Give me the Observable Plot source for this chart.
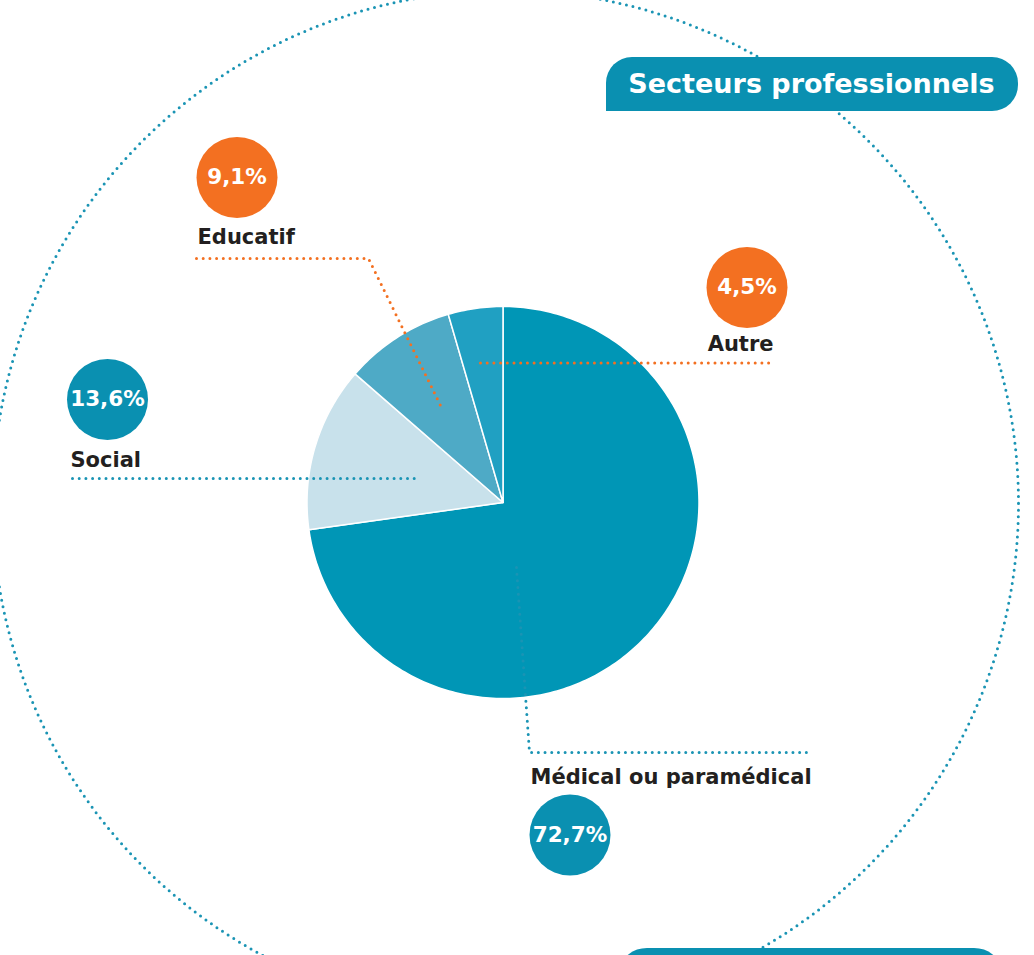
<!DOCTYPE html>
<html>
<head>
<meta charset="utf-8">
<script src="https://cdn.jsdelivr.net/npm/d3@7"></script>
<script src="https://cdn.jsdelivr.net/npm/@observablehq/plot@0.6"></script>
<style>
  html, body { margin: 0; padding: 0; background: #ffffff; }
  #chart { width: 1034px; height: 955px; overflow: hidden; }
</style>
</head>
<body>
<div id="chart"></div>
<script>
// ---- data ----
const categories = ["Médical ou paramédical", "Social", "Educatif", "Autre"];
const shares = [72.7, 13.6, 9.1, 4.5];
const sliceColors = ["#0096b6", "#c8e1eb", "#4eaac6", "#20a0c2"];
const badgeColors = ["#0a90b1", "#0a90b1", "#f37021", "#f37021"];
const title = "Secteurs professionnels";

// ---- layout (pixel units, y downward) ----
const W = 1034, H = 955;
const pie = {cx: 502.5, cy: 502, r: 196};
const ring = {cx: 505, cy: 503, r: 513};
const badgePos = [[569.5, 834.5], [107, 399], [236.5, 177], [746.5, 287]];
const namePos = [[530, 783, "start"], [70, 466, "start"], [197, 243, "start"], [773, 350, "end"]];
const leaderPts = [
  [[516, 567], [529, 752], [810, 752]],
  [[72, 478], [418, 478]],
  [[196, 258], [368, 258], [441, 407]],
  [[480, 362.5], [774, 362.5]]
];
const titleBox = {x1: 606, x2: 1018, y1: 57, y2: 111, cx: 811, cy: 84};
const footBox = {x1: 621, x2: 1000, y1: 948, y2: 990};

const dark = "#231f20";
const teal = "#1a94b4";
const orange = "#f37021";
const font = "DejaVu Sans";

// ---- pie geometry from shares ----
const total = d3.sum(shares);
const slices = [];
let acc = 0;
shares.forEach((v, i) => {
  const a0 = acc / total * 2 * Math.PI;
  acc += v;
  const a1 = acc / total * 2 * Math.PI;
  const n = Math.max(4, Math.ceil((a1 - a0) / (Math.PI / 180)));
  slices.push({k: categories[i], x: pie.cx, y: pie.cy, color: sliceColors[i]});
  for (let j = 0; j <= n; j++) {
    const a = a0 + (a1 - a0) * j / n;
    slices.push({k: categories[i], x: pie.cx + pie.r * Math.sin(a), y: pie.cy - pie.r * Math.cos(a), color: sliceColors[i]});
  }
  slices.push({k: categories[i], x: pie.cx, y: pie.cy, color: sliceColors[i]});
});

const badges = categories.map((c, i) => ({
  k: c, x: badgePos[i][0], y: badgePos[i][1], color: badgeColors[i],
  label: shares[i].toFixed(1).replace(".", ",") + "%"
}));
const names = categories.map((c, i) => ({k: c, x: namePos[i][0], y: namePos[i][1], anchor: namePos[i][2]}));
const leaders = [];
leaderPts.forEach((pts, i) => pts.forEach(p => leaders.push({k: categories[i], x: p[0], y: p[1], color: i >= 2 ? orange : teal})));

const chart = Plot.plot({
  width: W, height: H,
  margin: 0,
  x: {domain: [0, W], range: [0, W], axis: null},
  y: {domain: [0, H], range: [0, H], axis: null},
  color: {type: "identity"},
  style: {fontFamily: font, background: "white"},
  marks: [
    // outer dotted ring
    Plot.dot([ring], {x: "cx", y: "cy", r: ring.r, fill: "none", stroke: teal, strokeWidth: 3, strokeDasharray: "0,6.7", strokeLinecap: "round"}),
    // title banner
    Plot.rect([titleBox], {x1: "x1", x2: "x2", y1: "y1", y2: "y2", fill: "#0a90b1", rx: 26}),
    Plot.rect([titleBox], {x1: "x1", x2: d => d.x1 + 30, y1: d => d.cy, y2: "y2", fill: "#0a90b1"}),
    Plot.text([titleBox], {x: "cx", y: "cy", text: () => title, fill: "white", fontSize: 27, fontWeight: "bold", textAnchor: "middle", lineAnchor: "middle"}),
    // bottom banner (partially visible)
    Plot.rect([footBox], {x1: "x1", x2: "x2", y1: "y1", y2: "y2", fill: "#0a90b1", rx: 26}),
    // pie slices
    Plot.line(slices, {x: "x", y: "y", z: "k", fill: "color", stroke: "white", strokeWidth: 1.5, strokeLinejoin: "round", curve: "linear"}),
    // leader lines
    Plot.line(leaders, {x: "x", y: "y", z: "k", stroke: "color", strokeWidth: 3, strokeDasharray: "0,6.7", strokeLinecap: "round"}),
    // badges
    Plot.dot(badges, {x: "x", y: "y", r: 40.5, fill: "color"}),
    Plot.text(badges, {x: "x", y: "y", text: "label", fill: "white", fontSize: 21.5, fontWeight: "bold", textAnchor: "middle", lineAnchor: "middle", letterSpacing: "-1px"}),
    // category names
    Plot.text(names.filter(d => d.anchor === "start"), {x: "x", y: "y", text: "k", fill: dark, fontSize: 21, fontWeight: "bold", textAnchor: "start", lineAnchor: "bottom"}),
    Plot.text(names.filter(d => d.anchor === "end"), {x: "x", y: "y", text: "k", fill: dark, fontSize: 21, fontWeight: "bold", textAnchor: "end", lineAnchor: "bottom"})
  ]
});
document.getElementById("chart").appendChild(chart);
</script>
</body>
</html>
